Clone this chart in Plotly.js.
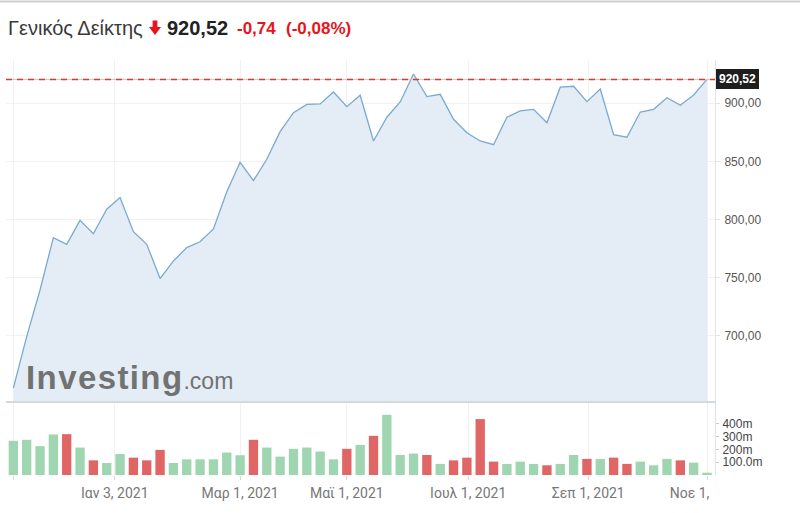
<!DOCTYPE html>
<html>
<head>
<meta charset="utf-8">
<script src="https://cdn.plot.ly/plotly-3.0.1.min.js"></script>
<style>
  html, body { margin: 0; padding: 0; background: #fff; }
  #chart { width: 800px; height: 513px; }
</style>
</head>
<body>
<div id="chart"></div>
<script>
// Weekly dates (Monday of each week)
const weeks = [
  '2020-11-02','2020-11-09','2020-11-16','2020-11-23','2020-11-30','2020-12-07','2020-12-14',
  '2020-12-21','2020-12-28','2021-01-04','2021-01-11','2021-01-18','2021-01-25','2021-02-01',
  '2021-02-08','2021-02-15','2021-02-22','2021-03-01','2021-03-08','2021-03-15','2021-03-22',
  '2021-03-29','2021-04-05','2021-04-12','2021-04-19','2021-04-26','2021-05-03','2021-05-10',
  '2021-05-17','2021-05-24','2021-05-31','2021-06-07','2021-06-14','2021-06-21','2021-06-28',
  '2021-07-05','2021-07-12','2021-07-19','2021-07-26','2021-08-02','2021-08-09','2021-08-16',
  '2021-08-23','2021-08-30','2021-09-06','2021-09-13','2021-09-20','2021-09-27','2021-10-04',
  '2021-10-11','2021-10-18','2021-10-25','2021-11-01'
];

// Weekly close of the General Index
const closePrice = [
  655.1, 699.4, 739.5, 784.5, 778.8, 799.4, 787.9, 808.9, 818.9, 789.6,
  778.8, 749.3, 764.5, 775.9, 781.0, 792.0, 824.0, 849.3, 833.5, 851.9,
  875.6, 891.9, 899.1, 899.4, 909.7, 897.1, 906.9, 867.6, 888.0, 901.1,
  925.2, 905.7, 907.7, 886.2, 874.7, 867.6, 864.4, 888.0, 893.4, 894.8,
  883.3, 913.8, 914.6, 901.4, 912.3, 873.0, 870.8, 892.5, 894.8, 904.8,
  898.3, 907.1, 920.52
];

// Weekly volume, millions
const volumeM = [
  268, 276, 226, 318, 320, 215, 115, 94, 165, 136,
  115, 197, 94, 123, 123, 123, 176, 155, 276, 215,
  144, 205, 215, 184, 123, 205, 236, 307, 472, 157,
  168, 157, 87, 115, 136, 438, 105, 87, 105, 87,
  76, 87, 157, 126, 126, 136, 87, 105, 76, 126,
  115, 97, 18
];

const lastPrice = 920.52;
const titleName = 'Γενικός Δείκτης';
const titlePrice = '920,52';
const titleChange = '-0,74';
const titlePct = '(-0,08%)';

const tickPos = [0, 7.6, 17, 25, 34.1, 43.1, 52];
const tickLabels = ['', 'Ιαν 3, 2021', 'Μαρ 1, 2021', 'Μαϊ 1, 2021', 'Ιουλ 1, 2021', 'Σεπ 1, 2021',
  'Νοε 1,<span style="color:rgba(0,0,0,0)"> 2021</span>'];
const priceTicks = [700, 750, 800, 850, 900];
const volTicks = [100, 200, 300, 400];
const volTickLabels = ['100.0m', '200m', '300m', '400m'];

// ---- layout geometry helpers ----
const W = 800, H = 513;
const M = {l: 6, r: 85, t: 60, b: 38};
const PW = W - M.l - M.r, PH = H - M.t - M.b;
const px = x => (x - M.l) / PW;
const py = y => (H - M.b - y) / PH;
const volTop = 401;
const volDomTop = (H - M.b - volTop) / PH;

const idx = weeks.map((d, i) => i);
const barColors = closePrice.map((v, i) => (i > 0 && v < closePrice[i - 1]) ? '#e06565' : '#9fd6b1');

const traces = [
  {
    type: 'scatter', mode: 'lines', x: idx, y: closePrice,
    xaxis: 'x2', yaxis: 'y2',
    line: {color: '#7aa9d2', width: 1.3},
    fill: 'tozeroy', fillcolor: '#e4edf5',
    hoverinfo: 'skip'
  },
  {
    type: 'bar', x: idx, y: volumeM,
    xaxis: 'x', yaxis: 'y',
    marker: {color: barColors, line: {width: 0}},
    width: 0.7,
    hoverinfo: 'skip'
  }
];

const axisFont = {family: 'Roboto, "Liberation Sans", sans-serif', size: 14, color: '#777'};
const yFont = {family: '"Liberation Sans", Arial, sans-serif', size: 12, color: '#555'};

// arrow in title
const aL = 149, aR = 161, aC = 155, sL = 152.6, sR = 157.4, aTop = 20.5, aMid = 27, aBot = 35;
const arrowPath = `M ${px(sL)} ${py(aTop)} L ${px(sR)} ${py(aTop)} L ${px(sR)} ${py(aMid)} L ${px(aR)} ${py(aMid)} L ${px(aC)} ${py(aBot)} L ${px(aL)} ${py(aMid)} L ${px(sL)} ${py(aMid)} Z`;

const layout = {
  width: W, height: H,
  margin: M,
  paper_bgcolor: '#fff', plot_bgcolor: '#fff',
  showlegend: false,
  separators: ',.',
  bargap: 0.3,
  xaxis: {
    domain: [0, 1], anchor: 'y', range: [-0.55, 52.6],
    tickmode: 'array', tickvals: tickPos, ticktext: tickLabels,
    ticks: 'outside', ticklen: 4, tickcolor: '#d8d8d8',
    showgrid: true, gridcolor: '#f1f1f1', zeroline: false, showline: false,
    tickfont: axisFont, ticklabelstandoff: 1, fixedrange: true
  },
  xaxis2: {
    matches: 'x', anchor: 'y2', range: [-0.55, 52.6],
    tickmode: 'array', tickvals: tickPos, showticklabels: false, ticks: '',
    showgrid: true, gridcolor: '#f1f1f1', zeroline: false,
    showline: true, linecolor: '#d3dadf', linewidth: 1.5
  },
  yaxis: {
    domain: [0, volDomTop], anchor: 'x', side: 'right', range: [0, 580],
    tickmode: 'array', tickvals: volTicks, ticktext: volTickLabels,
    ticks: 'outside', ticklen: 3, tickcolor: '#ccc',
    showgrid: false, zeroline: false, showline: true, linecolor: '#e3e3e3',
    tickfont: {family: '"Liberation Sans", Arial, sans-serif', size: 12, color: '#444'},
    ticklabelstandoff: 1
  },
  yaxis2: {
    domain: [volDomTop, 1], anchor: 'x2', side: 'right', range: [644.1, 937.2],
    tickmode: 'array', tickvals: priceTicks, tickformat: '.2f',
    ticks: 'outside', ticklen: 4, tickcolor: '#e3e3e3',
    showgrid: true, gridcolor: '#f1f1f1', zeroline: false,
    showline: true, linecolor: '#e3e3e3',
    tickfont: yFont, ticklabelstandoff: 2
  },
  shapes: [
    {type: 'line', xref: 'paper', yref: 'paper', x0: px(0), x1: px(800), y0: py(1.5), y1: py(1.5),
     line: {color: '#cfcfcf', width: 2}},
    {type: 'line', xref: 'paper', yref: 'y2', x0: 0, x1: 1, y0: lastPrice, y1: lastPrice,
     line: {color: '#f3b9b9', width: 1}},
    {type: 'line', xref: 'paper', yref: 'y2', x0: 0, x1: 1, y0: lastPrice, y1: lastPrice,
     line: {color: '#c9413c', width: 1.5, dash: '6px,5px'}},
    {type: 'path', xref: 'paper', yref: 'paper', path: arrowPath,
     fillcolor: '#e8141b', line: {width: 0}}
  ],
  annotations: [
    {xref: 'paper', yref: 'paper', x: px(8), y: py(28), xanchor: 'left', yanchor: 'middle',
     text: titleName, showarrow: false, borderpad: 0, borderwidth: 0,
     font: {family: '"Liberation Sans", Arial, sans-serif', size: 20, color: '#3a3a3a'}},
    {xref: 'paper', yref: 'paper', x: px(167), y: py(28), xanchor: 'left', yanchor: 'middle',
     text: '<b>' + titlePrice + '</b>', showarrow: false, borderpad: 0, borderwidth: 0,
     font: {family: '"Liberation Sans", Arial, sans-serif', size: 20, color: '#222'}},
    {xref: 'paper', yref: 'paper', x: px(237), y: py(28.5), xanchor: 'left', yanchor: 'middle',
     text: '<b>' + titleChange + '</b>', showarrow: false, borderpad: 0, borderwidth: 0,
     font: {family: '"Liberation Sans", Arial, sans-serif', size: 17, color: '#e8141b'}},
    {xref: 'paper', yref: 'paper', x: px(286), y: py(28.5), xanchor: 'left', yanchor: 'middle',
     text: '<b>' + titlePct + '</b>', showarrow: false, borderpad: 0, borderwidth: 0,
     font: {family: '"Liberation Sans", Arial, sans-serif', size: 17, color: '#e8141b'}},
    {xref: 'paper', yref: 'paper', x: px(26), y: py(377), xanchor: 'left', yanchor: 'middle',
     text: '<b><span style="letter-spacing:1.4px">Investing</span></b><span style="font-size:23px">.com</span>',
     showarrow: false, borderpad: 0, borderwidth: 0,
     font: {family: '"Liberation Sans", Arial, sans-serif', size: 33, color: '#727272'}},
    {xref: 'paper', yref: 'y2', x: 1, y: lastPrice, xanchor: 'left', yanchor: 'middle',
     xshift: 1, text: '<b>920,52</b>', showarrow: false, bgcolor: '#1e1e1e',
     borderpad: 3, borderwidth: 0,
     font: {family: '"Liberation Sans", Arial, sans-serif', size: 12, color: '#fff'}}
  ]
};

Plotly.newPlot('chart', traces, layout, {staticPlot: true, displayModeBar: false});
</script>
</body>
</html>
